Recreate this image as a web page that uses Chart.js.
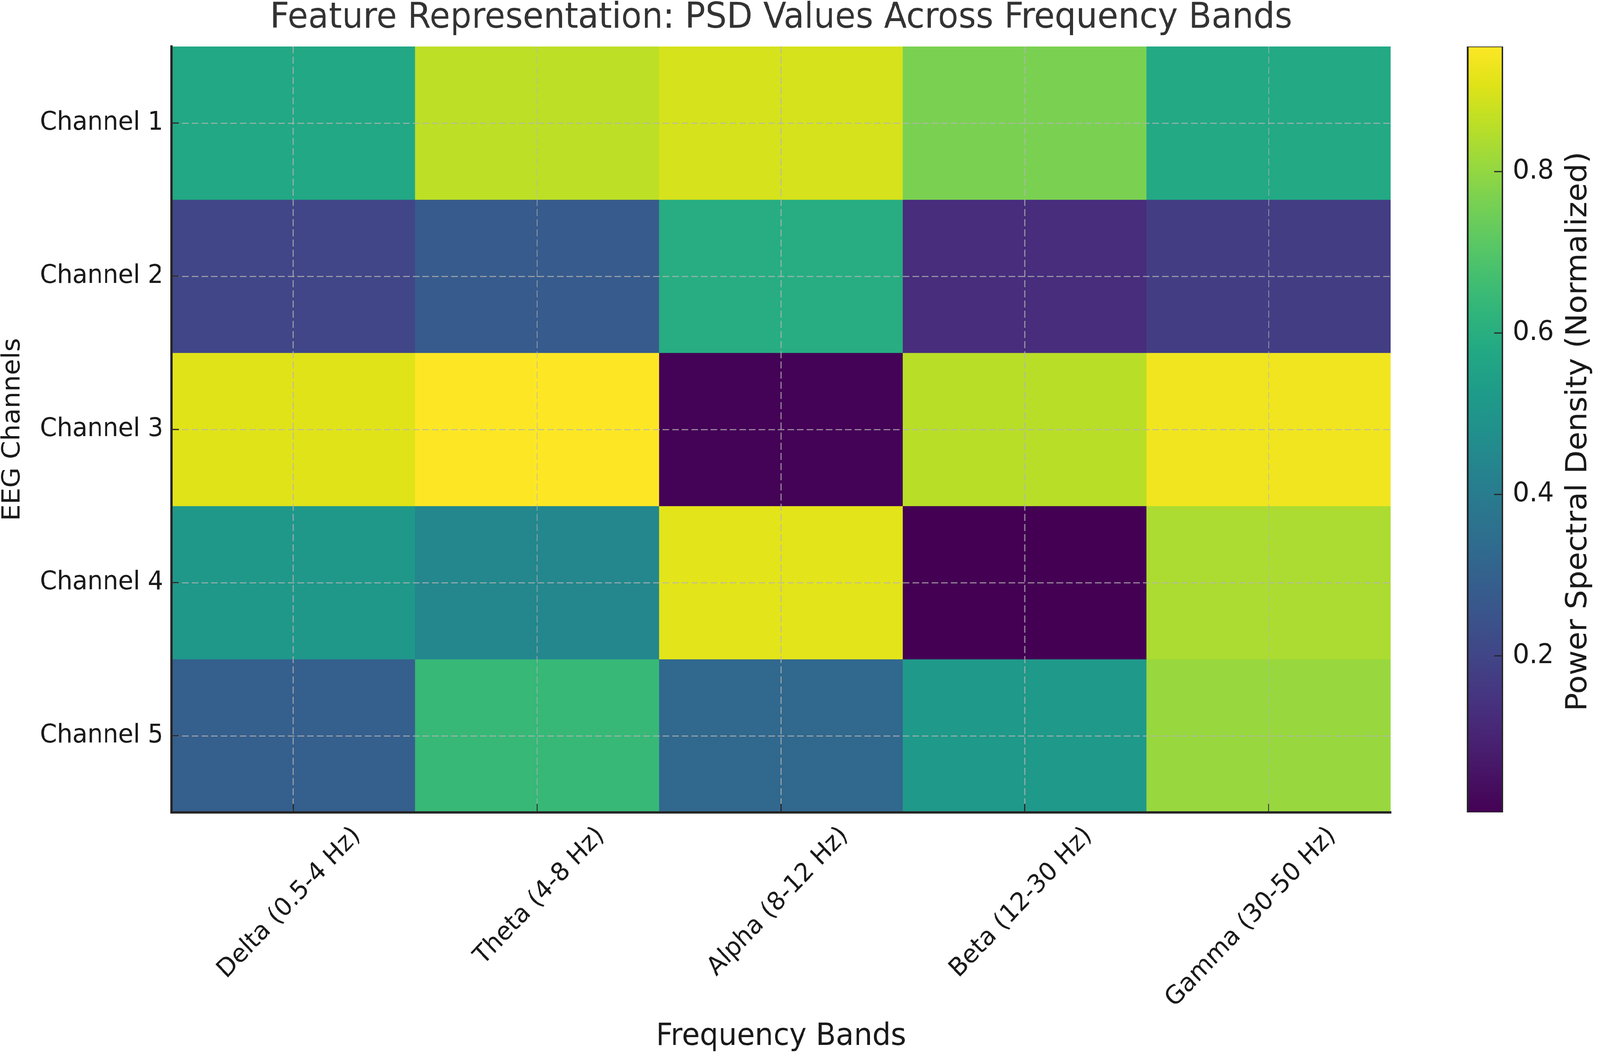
<!DOCTYPE html>
<html>
<head>
<meta charset="utf-8">
<title>Feature Representation: PSD Values Across Frequency Bands</title>
<script src="https://cdn.jsdelivr.net/npm/chart.js@4.4.1/dist/chart.umd.min.js"></script>
<style>
    html, body { margin: 0; padding: 0; background: #ffffff; overflow: hidden; }
    #wrap { position: relative; width: 4330px; height: 2710px; overflow: hidden; background: #ffffff; transform-origin: 0 0; }
    #heatmap { position: absolute; left: 0; top: 0; }
    #colorbar { position: absolute; left: 3900px; top: 0; }
</style>
</head>
<body>
<div id="wrap">
    <canvas id="heatmap" width="4228" height="2710"></canvas>
    <canvas id="colorbar" width="430" height="2710"></canvas>
</div>
<script>
/*** Datos ***/
const bands = ['Delta (0.5-4 Hz)', 'Theta (4-8 Hz)', 'Alpha (8-12 Hz)', 'Beta (12-30 Hz)', 'Gamma (30-50 Hz)'];
const channels = ['Channel 1', 'Channel 2', 'Channel 3', 'Channel 4', 'Channel 5'];
const psdChannel1 = [0.575, 0.860, 0.893, 0.765, 0.578];
const psdChannel2 = [0.201, 0.276, 0.594, 0.129, 0.177];
const psdChannel3 = [0.910, 0.955, 0.012, 0.855, 0.936];
const psdChannel4 = [0.509, 0.443, 0.915, 0.006, 0.836];
const psdChannel5 = [0.291, 0.642, 0.324, 0.514, 0.808];
const colorbarTicks = [0.2, 0.4, 0.6, 0.8];

const psdRows = [psdChannel1, psdChannel2, psdChannel3, psdChannel4, psdChannel5];

// viridis, paso de 0.05
const viridis = [
    '#440154', '#471365', '#482475', '#463480', '#414487', '#3b528b', '#355f8d',
    '#2f6c8e', '#2a788e', '#25848e', '#21918c', '#1e9c89', '#22a884', '#2fb47c',
    '#44bf70', '#5ec962', '#7ad151', '#9bd93c', '#bddf26', '#dfe318', '#fde725'
];

const allValues = [].concat(...psdRows);
const vmin = Math.min(...allValues);
const vmax = Math.max(...allValues);

const FONT = "'DejaVu Sans', 'Liberation Sans', sans-serif";
const TEXT = '#1a1a1a';

/*** La ventana puede ser mas angosta que 4330: se escala todo ***/
const PAGE_W = 4330, PAGE_H = 2710;
const sx = (window.innerWidth || PAGE_W) / PAGE_W;
const sy = (window.innerHeight || PAGE_H) / PAGE_H;
document.getElementById('wrap').style.transform = 'scale(' + sx + ',' + sy + ')';

function hexToRgb(h) {
    return [parseInt(h.substr(1, 2), 16), parseInt(h.substr(3, 2), 16), parseInt(h.substr(5, 2), 16)];
}

function colorFor(v) {
    let t = (v - vmin) / (vmax - vmin);
    t = Math.max(0, Math.min(1, t));
    const pos = t * (viridis.length - 1);
    const i = Math.min(Math.floor(pos), viridis.length - 2);
    const f = pos - i;
    const a = hexToRgb(viridis[i]);
    const b = hexToRgb(viridis[i + 1]);
    const c = a.map((x, k) => Math.round(x + (b[k] - x) * f));
    return 'rgb(' + c.join(',') + ')';
}

/*** Ticks hacia adentro ***/
const inwardTicks = {
    id: 'inwardTicks',
    afterDraw(chart, args, opts) {
        const ctx = chart.ctx;
        ctx.save();
        ctx.strokeStyle = opts.color;
        ctx.lineWidth = opts.width;
        (opts.axes || []).forEach(function (a) {
            const scale = chart.scales[a.id];
            scale.ticks.forEach(function (t, i) {
                const p = scale.getPixelForTick(i);
                ctx.beginPath();
                if (scale.isHorizontal()) {
                    ctx.moveTo(p, scale.top);
                    ctx.lineTo(p, scale.top - a.length);
                } else if (scale.position === 'left') {
                    ctx.moveTo(scale.right, p);
                    ctx.lineTo(scale.right + a.length, p);
                } else {
                    ctx.moveTo(scale.left, p);
                    ctx.lineTo(scale.left - a.length, p);
                }
                ctx.stroke();
            });
        });
        ctx.restore();
    }
};

/*** Heatmap ***/
const datasets = psdRows.map(function (row, i) {
    return {
        label: channels[i],
        data: bands.map(function () { return [i - 0.5, i + 0.5]; }),
        backgroundColor: row.map(colorFor),
        borderWidth: 0,
        grouped: false,
        barPercentage: 1,
        categoryPercentage: 1
    };
});

const gridStyle = {
    display: true,
    offset: false,
    color: 'rgba(180,180,180,0.72)',
    lineWidth: 3,
    drawTicks: false,
    z: 1
};
const borderStyle = {
    display: true,
    color: '#262626',
    width: 6,
    dash: [18, 8],
    z: 1
};

new Chart(document.getElementById('heatmap').getContext('2d'), {
    type: 'bar',
    data: { labels: bands, datasets: datasets },
    plugins: [inwardTicks],
    options: {
        responsive: false,
        animation: false,
        devicePixelRatio: 1,
        layout: { padding: 0 },
        plugins: {
            legend: { display: false },
            tooltip: { enabled: false },
            title: {
                display: true,
                text: 'Feature Representation: PSD Values Across Frequency Bands',
                color: '#333333',
                font: { family: FONT, size: 91, weight: 'normal', lineHeight: 1 },
                padding: { top: 2, bottom: 26 }
            },
            inwardTicks: {
                color: '#262626',
                width: 3,
                axes: [{ id: 'x', length: 22 }, { id: 'y', length: 20 }]
            }
        },
        scales: {
            x: {
                type: 'category',
                offset: true,
                grid: gridStyle,
                border: borderStyle,
                ticks: {
                    color: TEXT,
                    minRotation: 45,
                    maxRotation: 45,
                    padding: 22,
                    labelOffset: 172,
                    font: { family: FONT, size: 65 }
                },
                title: {
                    display: true,
                    text: 'Frequency Bands',
                    color: TEXT,
                    font: { family: FONT, size: 79, lineHeight: 1.2 },
                    padding: { top: 0, bottom: 9 }
                },
                afterFit: function (s) { s.height = 631; }
            },
            y: {
                type: 'linear',
                reverse: true,
                min: -0.5,
                max: 4.5,
                grid: gridStyle,
                border: borderStyle,
                afterBuildTicks: function (s) {
                    s.ticks = channels.map(function (c, i) { return { value: i }; });
                },
                ticks: {
                    color: TEXT,
                    padding: 22,
                    font: { family: FONT, size: 66 },
                    callback: function (v) { return channels[v]; }
                },
                title: {
                    display: true,
                    text: 'EEG Channels',
                    color: TEXT,
                    font: { family: FONT, size: 67, lineHeight: 1 },
                    padding: { top: 2, bottom: 0 }
                },
                afterFit: function (s) { s.width = 464; }
            },
            yPad: {
                type: 'linear',
                position: 'right',
                display: true,
                grid: { display: false },
                border: { display: false },
                ticks: { display: false },
                afterFit: function (s) { s.width = 465; }
            }
        }
    }
});

/*** Barra de color ***/
const colorbarLabel = {
    id: 'colorbarLabel',
    afterDraw(chart, args, opts) {
        const ctx = chart.ctx;
        const area = chart.chartArea;
        ctx.save();
        ctx.translate(opts.x, (area.top + area.bottom) / 2 + 5);
        ctx.rotate(-Math.PI / 2);
        ctx.textAlign = 'center';
        ctx.textBaseline = 'middle';
        ctx.fillStyle = TEXT;
        ctx.font = opts.size + 'px ' + FONT;
        ctx.fillText(opts.text, 0, 0);
        ctx.restore();
    }
};

new Chart(document.getElementById('colorbar').getContext('2d'), {
    type: 'bar',
    data: {
        labels: [''],
        datasets: [{
            data: [[vmin, vmax]],
            backgroundColor: function (c) {
                const chart = c.chart;
                const area = chart.chartArea;
                if (!area) return viridis[0];
                const g = chart.ctx.createLinearGradient(0, area.bottom, 0, area.top);
                viridis.forEach(function (col, i) { g.addColorStop(i / (viridis.length - 1), col); });
                return g;
            },
            borderColor: '#262626',
            borderWidth: { left: 5, right: 4, top: 2, bottom: 2 },
            borderSkipped: false,
            barPercentage: 1,
            categoryPercentage: 1
        }]
    },
    plugins: [inwardTicks, colorbarLabel],
    options: {
        responsive: false,
        animation: false,
        devicePixelRatio: 1,
        layout: { padding: { left: 70, top: 119, bottom: 631, right: 0 } },
        plugins: {
            legend: { display: false },
            tooltip: { enabled: false },
            inwardTicks: {
                color: '#262626',
                width: 3,
                axes: [{ id: 'y', length: 25 }]
            },
            colorbarLabel: {
                text: 'Power Spectral Density (Normalized)',
                x: 373,
                size: 78
            }
        },
        scales: {
            x: { display: false },
            y: {
                type: 'linear',
                position: 'right',
                min: vmin,
                max: vmax,
                grid: { display: false, drawTicks: false },
                border: { display: false },
                afterBuildTicks: function (s) {
                    s.ticks = colorbarTicks.map(function (v) { return { value: v }; });
                },
                ticks: {
                    color: TEXT,
                    padding: 26,
                    font: { family: FONT, size: 70 },
                    callback: function (v) { return v.toFixed(1); }
                },
                afterFit: function (s) { s.width = 262; }
            }
        }
    }
});
</script>
</body>
</html>
